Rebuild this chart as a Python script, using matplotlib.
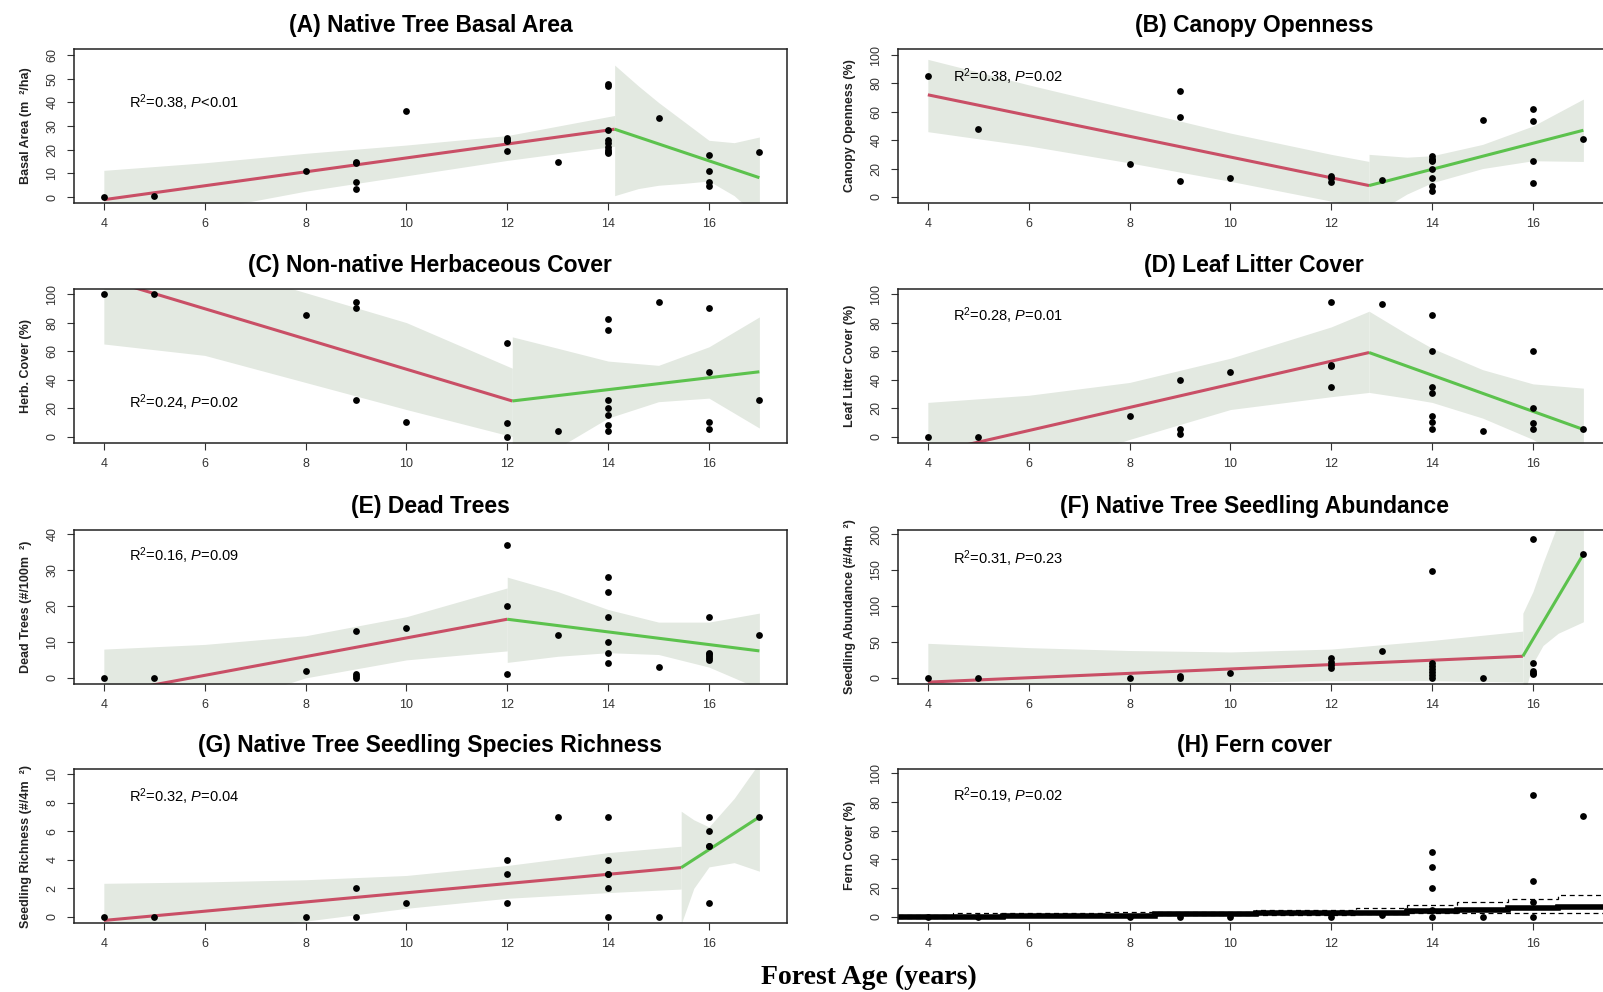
import matplotlib
matplotlib.use("Agg")
import matplotlib.pyplot as plt
import numpy as np

NARROW = ['Liberation Sans Narrow', 'Liberation Sans', 'DejaVu Sans']
plt.rcParams['font.family'] = NARROW
plt.rcParams['mathtext.fontset'] = 'custom'
plt.rcParams['mathtext.rm'] = 'Liberation Sans'
plt.rcParams['mathtext.it'] = 'Liberation Sans:italic'

# ---------------- data ----------------
xticks = [4, 6, 8, 10, 12, 14, 16]

# (A) Native Tree Basal Area
A_age = [4, 5, 8, 9, 9, 9, 9, 10, 12, 12, 12, 12, 13, 14, 14, 14, 14, 14, 14, 14, 14, 14, 15, 16, 16, 16, 16, 17]
A_val = [0, 0.5, 11, 15, 14.5, 6.5, 3.5, 36.5, 25, 24, 23.5, 19.5, 15, 48, 47, 28.5, 24, 23, 21, 20, 19, 18.5, 33.5, 18, 11, 6.5, 4.5, 19]
A_red_x, A_red_y = [4, 14.13], [-1.1, 28.7]
A_grn_x, A_grn_y = [14.13, 17], [28.7, 8.2]
A_rb_x = [4, 6, 8, 10, 12, 14.13]
A_rb_hi = [11.3, 14.5, 18.5, 22, 26, 34.5]
A_rb_lo = [-14, -5.5, 2.5, 9, 15.5, 21.5]
A_gb_x = [14.13, 14.6, 15, 15.5, 16, 16.5, 17]
A_gb_hi = [55.8, 47, 40, 32, 24, 23, 25.4]
A_gb_lo = [0.6, 3.6, 5, 5.8, 6.8, 0.6, -9]

# (B) Canopy Openness
B_age = [4, 5, 8, 9, 9, 9, 10, 12, 12, 12, 13, 14, 14, 14, 14, 14, 14, 14, 14, 15, 16, 16, 16, 16, 17]
B_val = [85.5, 48, 23, 75, 56, 11, 13.5, 15, 13.5, 10.5, 12, 29, 27, 26, 25, 19.5, 13, 8, 4, 54.5, 62, 53.5, 25, 10, 41]
B_red_x, B_red_y = [4, 12.75], [72, 8]
B_grn_x, B_grn_y = [12.75, 17], [8, 47]
B_rb_x = [4, 6, 8, 10, 12, 12.75]
B_rb_hi = [97, 79, 62, 45, 30, 25]
B_rb_lo = [46, 36, 24, 11, -3, -9]
B_gb_x = [12.75, 13.5, 14, 15, 16, 17]
B_gb_hi = [30, 28, 29, 37, 50, 69]
B_gb_lo = [-14, 2, 10, 20, 25.5, 25]

# (C) Non-native Herbaceous Cover
C_age = [4, 5, 8, 9, 9, 9, 10, 12, 12, 12, 13, 14, 14, 14, 14, 14, 14, 14, 15, 16, 16, 16, 16, 17]
C_val = [100, 100, 85, 94.5, 90, 25.5, 10.5, 65.5, 9.5, 0, 4, 82.5, 75, 25.5, 20, 15, 8, 4, 94.5, 90, 45.5, 10.5, 5.5, 25.5]
C_red_x, C_red_y = [4, 12.1], [111, 25]
C_grn_x, C_grn_y = [12.1, 17], [25, 45.5]
C_rb_x = [4, 6, 8, 10, 12.1]
C_rb_hi = [157, 122, 101, 80, 48]
C_rb_lo = [65, 57, 38, 19, 0]
C_gb_x = [12.1, 13, 14, 15, 16, 17]
C_gb_hi = [70, 62, 53, 50, 63, 84]
C_gb_lo = [-10, -8, 13, 24.5, 27, 6]

# (D) Leaf Litter Cover
D_age = [4, 5, 8, 9, 9, 9, 10, 12, 12, 12, 12, 13, 14, 14, 14, 14, 14, 14, 14, 15, 16, 16, 16, 16, 17]
D_val = [0, 0, 14.5, 40, 5.5, 1.5, 45.5, 94.5, 50.5, 49.5, 35, 93, 85, 60, 35, 30.5, 14.5, 10.5, 5.5, 4, 60, 20, 9.5, 5.5, 5.5]
D_red_x, D_red_y = [4, 12.75], [-12, 59]
D_grn_x, D_grn_y = [12.75, 17], [59, 5]
D_rb_x = [4, 6, 8, 10, 12, 12.75]
D_rb_hi = [24, 29, 38, 55, 77, 88]
D_rb_lo = [-48, -25, -2, 19, 28, 31]
D_gb_x = [12.75, 13.5, 14, 15, 16, 17]
D_gb_hi = [88, 72, 62, 47, 37, 34]
D_gb_lo = [31, 27, 24, 13, -2, -24]

# (E) Dead Trees
E_age = [4, 5, 8, 9, 9, 9, 9, 10, 12, 12, 12, 13, 14, 14, 14, 14, 14, 14, 15, 16, 16, 16, 16, 16, 16, 17]
E_val = [0, 0, 2, 13, 1, 0.5, 0, 14, 37, 20, 1, 12, 28, 24, 17, 10, 7, 4, 3, 17, 7, 6.5, 6, 5.5, 5, 12]
E_red_x, E_red_y = [4, 12], [-4.5, 16.3]
E_grn_x, E_grn_y = [12, 17], [16.3, 7.5]
E_rb_x = [4, 6, 8, 10, 12]
E_rb_hi = [8, 9.3, 11.7, 17, 25]
E_rb_lo = [-17, -9, 0, 5, 7.5]
E_gb_x = [12, 13, 14, 15, 16, 17]
E_gb_hi = [28, 24, 19, 15.5, 15.5, 18]
E_gb_lo = [4.3, 6, 7, 6.5, 3, -3]

# (F) Native Tree Seedling Abundance
F_age = [4, 5, 8, 9, 9, 10, 12, 12, 12, 12, 13, 14, 14, 14, 14, 14, 14, 14, 15, 16, 16, 16, 16, 16, 17]
F_val = [0, 0, 0, 2, 0, 6.5, 28, 22, 18, 14, 37, 148, 20, 16, 12, 8, 4, 0, 0, 193, 20, 10, 7, 5, 172]
F_red_x, F_red_y = [4, 15.8], [-6, 30]
F_grn_x, F_grn_y = [15.8, 17], [30, 172]
F_rb_x = [4, 6, 8, 10, 12, 14, 15.8]
F_rb_hi = [48, 42, 38, 36, 40, 52, 65]
F_rb_lo = [-60, -30, -12, -6, -4, -4, -6]
F_gb_x = [15.8, 16, 16.2, 16.5, 17]
F_gb_hi = [90, 120, 160, 215, 260]
F_gb_lo = [-30, 20, 45, 62, 78]

# (G) Native Tree Seedling Species Richness
G_age = [4, 5, 8, 9, 9, 10, 12, 12, 12, 13, 14, 14, 14, 14, 14, 14, 15, 16, 16, 16, 16, 16, 17]
G_val = [0, 0, 0, 2, 0, 1, 4, 3, 1, 7, 7, 4, 3, 3, 2, 0, 0, 7, 6, 5, 5, 1, 7]
G_red_x, G_red_y = [4, 15.45], [-0.25, 3.45]
G_grn_x, G_grn_y = [15.45, 17], [3.45, 7]
G_rb_x = [4, 6, 8, 10, 12, 14, 15.45]
G_rb_hi = [2.35, 2.45, 2.6, 2.9, 3.6, 4.5, 4.95]
G_rb_lo = [-2.8, -1.4, -0.3, 0.6, 1.3, 1.7, 1.95]
G_gb_x = [15.45, 15.7, 16, 16.5, 17]
G_gb_hi = [7.4, 6.8, 6.3, 8.3, 10.8]
G_gb_lo = [-0.5, 2.0, 3.5, 3.8, 3.2]

# (H) Fern cover
H_age = [4, 5, 8, 9, 10, 12, 13, 14, 14, 14, 14, 14, 15, 16, 16, 16, 16, 17]
H_val = [0, 0, 0, 0, 0, 0, 1, 45, 35, 20, 5, 0, 0, 85, 25, 10, 0, 70]
H_fit_edges = [3.4, 5.5, 8.5, 10.5, 11.5, 13.5, 14.5, 15.5, 16.5, 17.6]
H_fit_vals = [0, 0.8, 1.9, 2.4, 3, 4.2, 5, 5.9, 6.6]
H_ci_edges = [3.4, 4.5, 7.5, 10.5, 12.5, 13.5, 14.5, 15.5, 16.5, 17.6]
H_ci_hi = [1.5, 2.5, 3.5, 5, 6, 8, 10, 12.5, 15.5]
H_ci_lo = [-0.5, 0.5, 1, 1.5, 2, 2.5, 2.5, 3, 3]

titles = ["(A) Native Tree Basal Area", "(B) Canopy Openness",
          "(C) Non-native Herbaceous Cover", "(D) Leaf Litter Cover",
          "(E) Dead Trees", "(F) Native Tree Seedling Abundance",
          "(G) Native Tree Seedling Species Richness", "(H) Fern cover"]
ylabels = ["Basal Area (m  \u00b2/ha)", "Canopy Openness (%)", "Herb. Cover (%)",
           "Leaf Litter Cover (%)", "Dead Trees (#/100m  \u00b2)",
           "Seedling Abundance (#/4m  \u00b2)", "Seedling Richness (#/4m  \u00b2)",
           "Fern Cover (%)"]
stats = ["0.38, $\\mathit{P}$<0.01", "0.38, $\\mathit{P}$=0.02", "0.24, $\\mathit{P}$=0.02",
         "0.28, $\\mathit{P}$=0.01", "0.16, $\\mathit{P}$=0.09", "0.31, $\\mathit{P}$=0.23",
         "0.32, $\\mathit{P}$=0.04", "0.19, $\\mathit{P}$=0.02"]
stat_y = [40, 85, 24, 85, 34, 166, 8.4, 84]
ylims = [(-2.5, 62.6), (-4.3, 104.3), (-4.5, 103.6), (-4.5, 103.6),
         (-1.7, 41.1), (-8.6, 205.7), (-0.43, 10.36), (-4.3, 102.9)]
yticks = [range(0, 61, 10), range(0, 101, 20), range(0, 101, 20), range(0, 101, 20),
          range(0, 41, 10), range(0, 201, 50), range(0, 11, 2), range(0, 101, 20)]

panels = [
    (A_age, A_val, A_red_x, A_red_y, A_grn_x, A_grn_y, A_rb_x, A_rb_lo, A_rb_hi, A_gb_x, A_gb_lo, A_gb_hi),
    (B_age, B_val, B_red_x, B_red_y, B_grn_x, B_grn_y, B_rb_x, B_rb_lo, B_rb_hi, B_gb_x, B_gb_lo, B_gb_hi),
    (C_age, C_val, C_red_x, C_red_y, C_grn_x, C_grn_y, C_rb_x, C_rb_lo, C_rb_hi, C_gb_x, C_gb_lo, C_gb_hi),
    (D_age, D_val, D_red_x, D_red_y, D_grn_x, D_grn_y, D_rb_x, D_rb_lo, D_rb_hi, D_gb_x, D_gb_lo, D_gb_hi),
    (E_age, E_val, E_red_x, E_red_y, E_grn_x, E_grn_y, E_rb_x, E_rb_lo, E_rb_hi, E_gb_x, E_gb_lo, E_gb_hi),
    (F_age, F_val, F_red_x, F_red_y, F_grn_x, F_grn_y, F_rb_x, F_rb_lo, F_rb_hi, F_gb_x, F_gb_lo, F_gb_hi),
    (G_age, G_val, G_red_x, G_red_y, G_grn_x, G_grn_y, G_rb_x, G_rb_lo, G_rb_hi, G_gb_x, G_gb_lo, G_gb_hi),
    None,
]

BAND = '#e3e9e1'
RED = '#c94f66'
GREEN = '#5cc24d'

W, H = 1603, 992
fig = plt.figure(figsize=(W / 100, H / 100), dpi=100)

col_left = [73.6, 897.6]
ax_w = 713.5
row_top = [49, 289, 530, 769]
ax_h = 154

for i in range(8):
    r, c = divmod(i, 2)
    left = col_left[c] / W
    bottom = 1 - (row_top[r] + ax_h) / H
    ax = fig.add_axes([left, bottom, ax_w / W, ax_h / H])
    ax.set_xlim(3.4, 17.55)
    ax.set_ylim(*ylims[i])
    if panels[i] is not None:
        (age, val, rx, ry, gx, gy, rbx, rblo, rbhi, gbx, gblo, gbhi) = panels[i]
        ax.fill_between(rbx, rblo, rbhi, color=BAND, lw=0, zorder=1)
        ax.fill_between(gbx, gblo, gbhi, color=BAND, lw=0, zorder=1)
        ax.plot(rx, ry, color=RED, lw=2.2, zorder=2, solid_capstyle='butt')
        ax.plot(gx, gy, color=GREEN, lw=2.2, zorder=2, solid_capstyle='butt')
        ax.scatter(age, val, s=24, color='black', zorder=3, linewidths=0)
    else:
        ax.stairs(H_ci_hi, H_ci_edges, color='black', lw=0.9, ls=(0, (4, 3)), baseline=None, zorder=2)
        ax.stairs(H_ci_lo, H_ci_edges, color='black', lw=0.9, ls=(0, (4, 3)), baseline=None, zorder=2)
        ax.stairs(H_fit_vals, H_fit_edges, color='black', lw=4, baseline=None, zorder=2)
        ax.scatter(H_age, H_val, s=24, color='black', zorder=3, linewidths=0)
    ax.set_xticks(xticks)
    ax.set_yticks(list(yticks[i]))
    ax.tick_params(axis='both', direction='out', length=5, width=0.8, color='#333333',
                   labelcolor='#333333')
    ax.tick_params(axis='x', labelsize=9, pad=6)
    ax.tick_params(axis='y', labelsize=9, pad=6, labelrotation=90)
    for lab in ax.get_yticklabels():
        lab.set_family(['Liberation Sans', 'DejaVu Sans'])
        lab.set_va('center')
    for sp in ax.spines.values():
        sp.set_linewidth(1.1)
        sp.set_color('#222222')
    ax.set_ylabel(ylabels[i], fontsize=9, fontweight='bold', color='#222222',
                  family=['Liberation Sans', 'DejaVu Sans'], labelpad=10)
    ax.set_title(titles[i], fontsize=16.5, fontweight='bold', pad=12)
    ax.text(4.5, stat_y[i], "R$^{2}$=" + stats[i], fontsize=10.5, va='center', ha='left')

fig.text(869 / W, 1 - 977 / H, "Forest Age (years)", fontsize=20, fontweight='bold',
         family=['Liberation Serif', 'DejaVu Serif'], ha='center', va='center')

fig.savefig("out.png", dpi=100)
